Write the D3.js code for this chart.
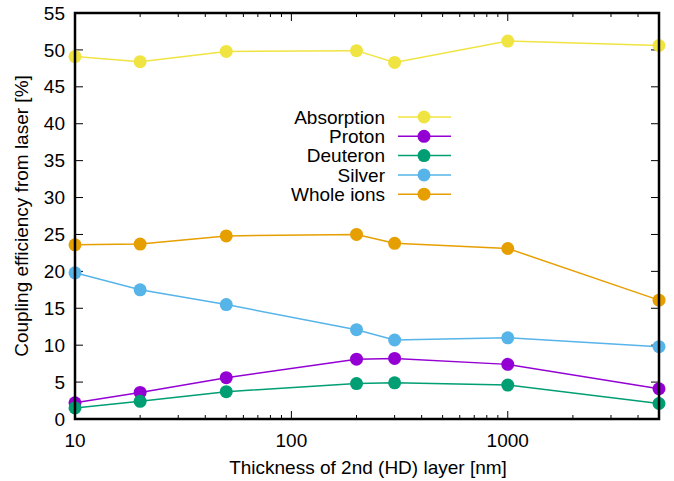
<!DOCTYPE html>
<html>
<head>
<meta charset="utf-8">
<script src="https://cdn.jsdelivr.net/npm/d3@7"></script>
<style>
  body { margin: 0; background: #fff; }
  text { font-family: "Liberation Sans", Arial, sans-serif; font-size: 19px; fill: #000; }
</style>
</head>
<body>
<svg width="674" height="481"></svg>
<script>
// thickness values (nm)
var thickness = [10, 20, 50, 200, 300, 1000, 5000];
var absorption = [49.1, 48.4, 49.8, 49.9, 48.3, 51.2, 50.6];
var proton = [2.2, 3.6, 5.6, 8.1, 8.2, 7.4, 4.1];
var deuteron = [1.5, 2.4, 3.7, 4.8, 4.9, 4.6, 2.1];
var silver = [19.8, 17.5, 15.5, 12.1, 10.7, 11.0, 9.8];
var wholeIons = [23.6, 23.7, 24.8, 25.0, 23.8, 23.1, 16.1];

var seriesNames = ["Absorption", "Proton", "Deuteron", "Silver", "Whole ions"];
var seriesValues = [absorption, proton, deuteron, silver, wholeIons];
var seriesColors = ["#f0e442", "#9400d3", "#009e73", "#56b4e9", "#e69f00"];

var yTicks = d3.range(0, 56, 5);
var xTicks = [10, 100, 1000];

var svg = d3.select("svg");
var pl = 75, pr = 659, pt = 13, pb = 419;

var x = d3.scaleLog().domain([10, 5000]).range([pl, pr]);
var y = d3.scaleLinear().domain([0, 55]).range([pb, pt]);

// minor ticks for log axis
var minor = [];
[10, 100, 1000].forEach(function(d) {
  for (var k = 2; k <= 9; k++) if (d * k <= 5000) minor.push(d * k);
});

var g = svg.append("g");

// y ticks (inward, both sides)
yTicks.forEach(function(t) {
  g.append("line").attr("x1", pl).attr("x2", pl + 8).attr("y1", y(t)).attr("y2", y(t)).style("stroke", "black").style("stroke-width", 1);
  g.append("line").attr("x1", pr).attr("x2", pr - 8).attr("y1", y(t)).attr("y2", y(t)).style("stroke", "black").style("stroke-width", 1);
  g.append("text").attr("x", pl - 10).attr("y", y(t)).attr("dy", "0.35em").attr("text-anchor", "end").text(t);
});

// x ticks
xTicks.forEach(function(t) {
  g.append("line").attr("x1", x(t)).attr("x2", x(t)).attr("y1", pb).attr("y2", pb - 8).style("stroke", "black").style("stroke-width", 1);
  g.append("line").attr("x1", x(t)).attr("x2", x(t)).attr("y1", pt).attr("y2", pt + 8).style("stroke", "black").style("stroke-width", 1);
  g.append("text").attr("x", x(t)).attr("y", pb + 28).attr("text-anchor", "middle").text(t);
});
minor.forEach(function(t) {
  g.append("line").attr("x1", x(t)).attr("x2", x(t)).attr("y1", pb).attr("y2", pb - 4).style("stroke", "black").style("stroke-width", 1);
  g.append("line").attr("x1", x(t)).attr("x2", x(t)).attr("y1", pt).attr("y2", pt + 4).style("stroke", "black").style("stroke-width", 1);
});

// axis labels
svg.append("text").attr("x", 368).attr("y", 474).attr("text-anchor", "middle").text("Thickness of 2nd (HD) layer [nm]");
svg.append("text").attr("transform", "translate(28," + ((pt + pb) / 2) + ") rotate(-90)").attr("text-anchor", "middle").text("Coupling efficiency from laser [%]");

// series
var line = d3.line().x(function(d, i) { return x(thickness[i]); }).y(function(d) { return y(d); });
seriesValues.forEach(function(vals, s) {
  var sg = svg.append("g");
  sg.append("path").datum(vals).attr("d", line).style("fill", "none").style("stroke", seriesColors[s]).style("stroke-width", 1.5);
  sg.selectAll("circle").data(vals).enter().append("circle")
    .attr("cx", function(d, i) { return x(thickness[i]); })
    .attr("cy", function(d) { return y(d); })
    .attr("r", 6.5)
    .style("fill", seriesColors[s]);
});

// legend
seriesNames.forEach(function(name, s) {
  var ly = 117 + s * 19.3;
  svg.append("text").attr("x", 385).attr("y", ly).attr("dy", "0.35em").attr("text-anchor", "end").text(name);
  svg.append("line").attr("x1", 398).attr("x2", 451).attr("y1", ly).attr("y2", ly).style("stroke", seriesColors[s]).style("stroke-width", 1.5);
  svg.append("circle").attr("cx", 424).attr("cy", ly).attr("r", 6.5).style("fill", seriesColors[s]);
});

// frame
svg.append("rect").attr("x", pl).attr("y", pt).attr("width", pr - pl).attr("height", pb - pt)
  .style("fill", "none").style("stroke", "black").style("stroke-width", 2.5);
</script>
</body>
</html>
